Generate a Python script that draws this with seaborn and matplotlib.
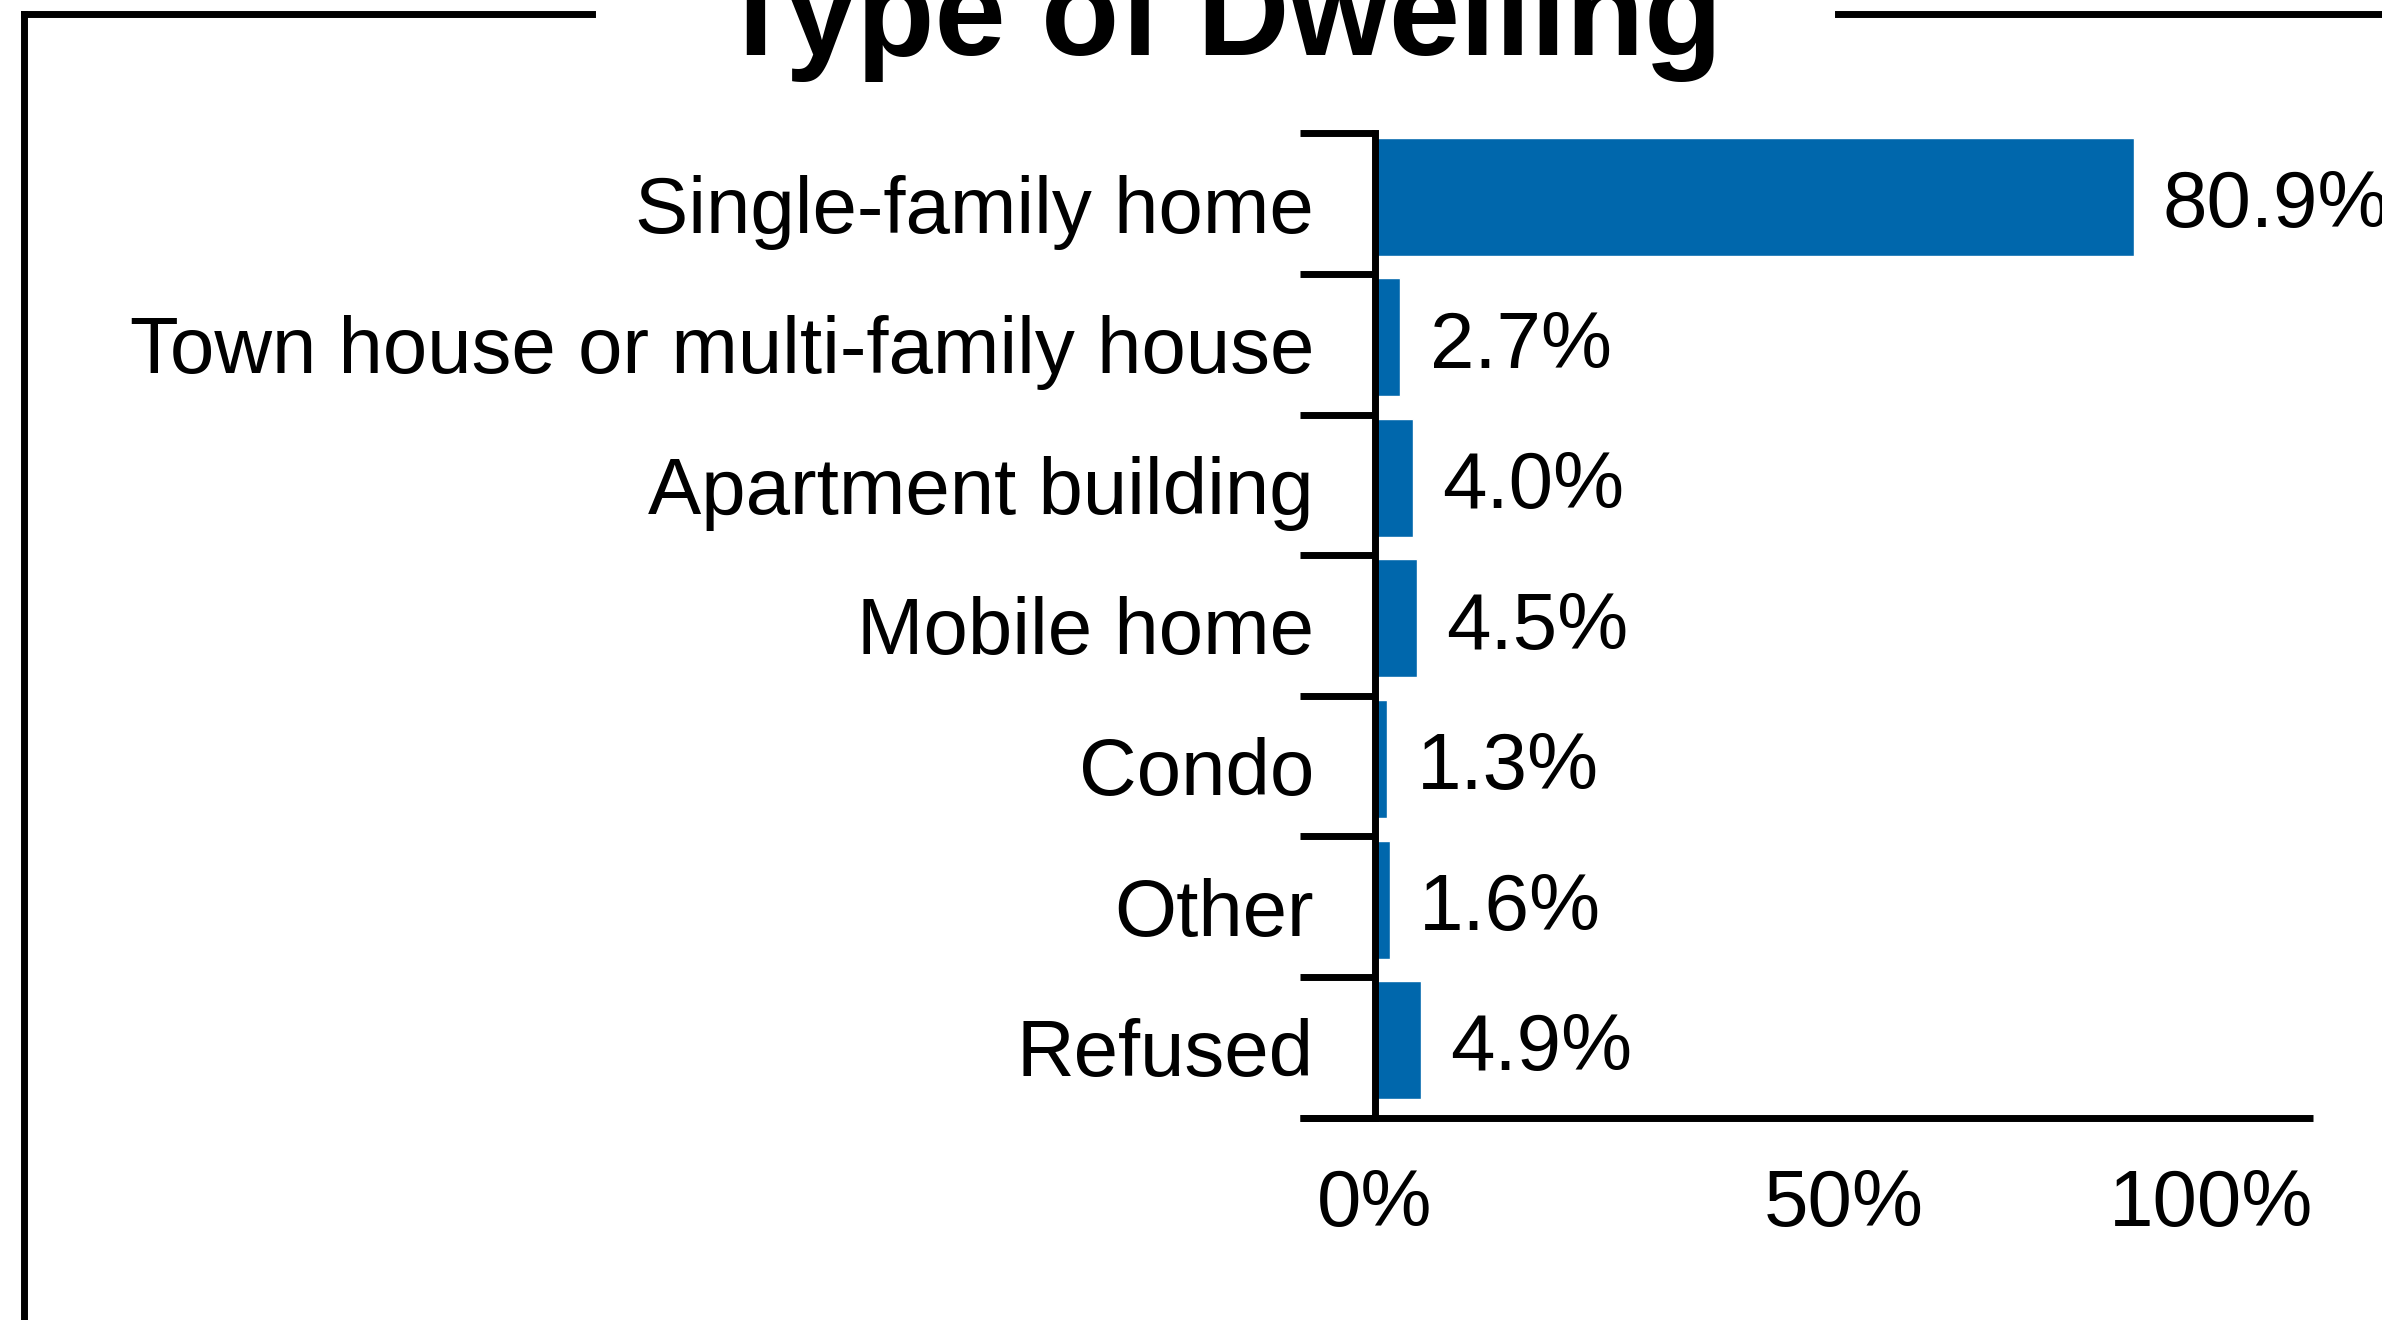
import numpy as np
import pandas as pd
import matplotlib
matplotlib.use("Agg")
import matplotlib.pyplot as plt
from matplotlib.lines import Line2D
import seaborn as sns

categories = [
    "Single-family home",
    "Town house or multi-family house",
    "Apartment building",
    "Mobile home",
    "Condo",
    "Other",
    "Refused",
]
shares = [80.9, 2.7, 4.0, 4.5, 1.3, 1.6, 4.9]
x_ticks = [0, 50, 100]
x_tick_labels = ["0%", "50%", "100%"]
title = "Type of Dwelling"

BAR_COLOR = "#0067AC"
LINE_W = 5.0

sns.set_theme(style="white")
plt.rcParams["font.family"] = ["Liberation Sans", "DejaVu Sans"]

df = pd.DataFrame({"category": categories, "share": shares})

fig = plt.figure(figsize=(23.82, 13.2), dpi=100)
ax = fig.add_axes([0.5458, 0.1534, 0.9710 - 0.5458, 0.8989 - 0.1534])

sns.barplot(data=df, x="share", y="category", orient="h", color=BAR_COLOR,
            saturation=1, width=0.84, ax=ax)

# bars sit slightly towards the top of each band
shift = 0.05
n = len(categories)
ax.set_xlim(-8.0, 100)
ax.set_ylim(n - 0.5 + shift, -0.5 + shift)

# spines: left axis sits at x = 0, bottom spine spans the full axes
for side in ("top", "right"):
    ax.spines[side].set_visible(False)
ax.spines["left"].set_position(("data", 0))
ax.spines["left"].set_linewidth(LINE_W)
ax.spines["left"].set_color("black")
ax.spines["bottom"].set_linewidth(LINE_W)
ax.spines["bottom"].set_color("black")
ax.spines["bottom"].set_capstyle("butt")

# y ticks at band boundaries, labels at band centres
ax.set_yticks(np.arange(n + 1) - 0.5 + shift, labels=[])
ax.set_yticks(np.arange(n) + shift, labels=categories, minor=True)
ax.tick_params(axis="y", which="major", length=54, width=LINE_W, color="black",
               direction="out", left=True)
ax.tick_params(axis="y", which="minor", length=0, pad=44, labelsize=57.5,
               labelcolor="black")

ax.set_xticks(x_ticks, labels=x_tick_labels)
ax.tick_params(axis="x", length=0, pad=36, labelsize=57.5, labelcolor="black")
xlabels = ax.get_xticklabels()
xlabels[-1].set_horizontalalignment("right")

ax.set_xlabel("")
ax.set_ylabel("")

value_texts = ax.bar_label(ax.containers[0], labels=[f"{v:.1f}%" for v in shares],
                           padding=21, fontsize=57.5, color="black")
for t in value_texts:
    t.xyann = (21, -7)

# frame around the figure with a gap for the title
fig.add_artist(Line2D([0.0099, 0.0099], [0.9894, -0.01], transform=fig.transFigure,
                      color="black", lw=LINE_W, solid_capstyle="projecting"))
fig.add_artist(Line2D([0.0099, 0.2485], [0.9894, 0.9894], transform=fig.transFigure,
                      color="black", lw=LINE_W, solid_capstyle="projecting"))
fig.add_artist(Line2D([0.7716, 1.01], [0.9894, 0.9894], transform=fig.transFigure,
                      color="black", lw=LINE_W, solid_capstyle="projecting"))

fig.text(0.5120, 0.958, title, ha="center", va="baseline", fontsize=92,
         fontweight="bold", color="black")

fig.savefig("out.png", dpi=100, facecolor="white")
